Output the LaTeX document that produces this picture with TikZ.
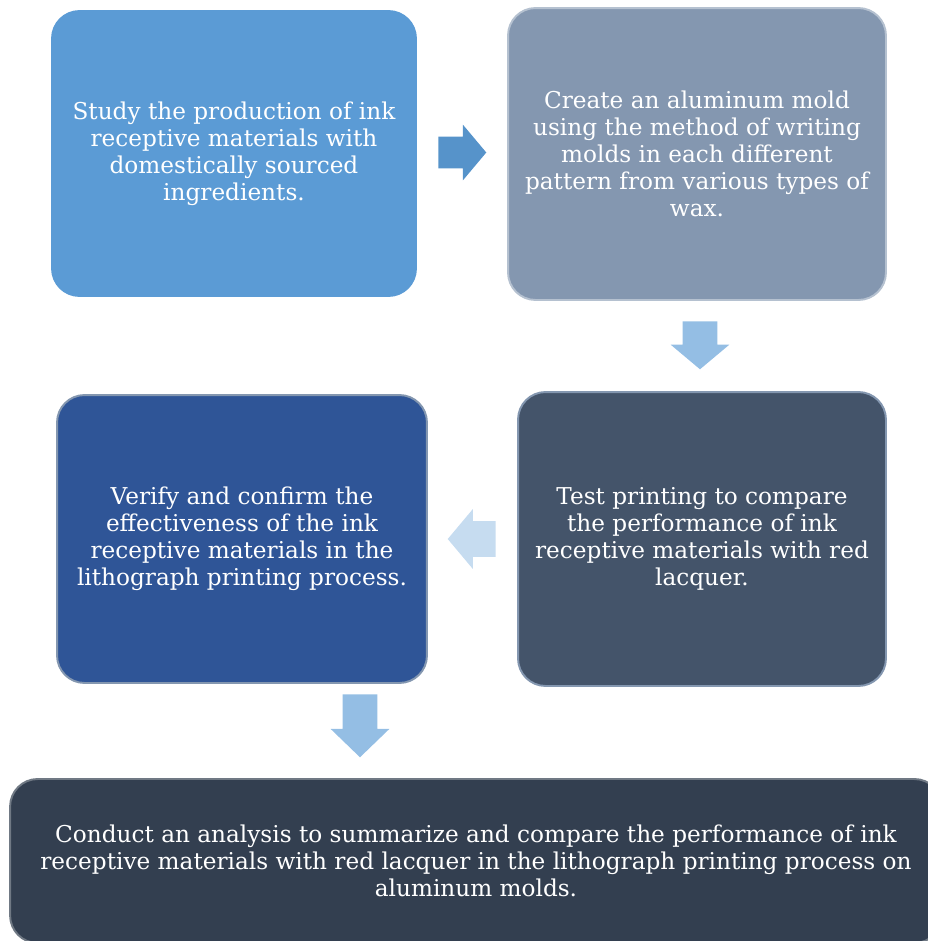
\documentclass[tikz,border=0pt]{standalone}
\usepackage{fontspec}
\setmainfont{DejaVu Serif}
\usetikzlibrary{shapes.arrows,calc}
\definecolor{bA}{HTML}{5B9BD5}
\definecolor{bB}{HTML}{8497B0}
\definecolor{bC}{HTML}{44546A}
\definecolor{bD}{HTML}{2F5597}
\definecolor{bE}{HTML}{333F50}
\tikzset{
    box/.style =    {rectangle,
                    rounded corners=0.55cm,
                    text=white,
                    line width=1.1pt,
                    align=center,
                    inner sep=6pt,
                    font=\fontsize{13.2}{15.4}\selectfont},
    flow/.style =   {single arrow,
                    draw=none,
                    anchor=tail,
                    inner sep=0pt,
                    single arrow tip angle=100,
                    single arrow head extend=0.24cm,
                    minimum height=0.96cm},
    -}

\begin{document}
\begin{tikzpicture}[x=0.02cm,y=-0.02cm]
            \useasboundingbox (0,0) rectangle (928,941);
            \clip (0,0) rectangle (928,941);
            \node[box,fill=bA,draw=bA,minimum width=7.28cm,minimum height=5.70cm]
                (S1) at (234,153.5) {Study the production of ink\\receptive materials with\\domestically sourced\\ingredients.};
            \node[box,fill=bB,draw=bB!60!white,minimum width=7.56cm,minimum height=5.84cm]
                (S2) at (697,154) {Create an aluminum mold\\using the method of writing\\molds in each different\\pattern from various types of\\wax.};
            \node[box,fill=bC,draw=bB,minimum width=7.36cm,minimum height=5.88cm]
                (S3) at (702,539) {Test printing to compare\\the performance of ink\\receptive materials with red\\lacquer.};
            \node[box,fill=bD,draw=bB,minimum width=7.40cm,minimum height=5.76cm]
                (S4) at (242,539) {Verify and confirm the\\effectiveness of the ink\\receptive materials in the\\lithograph printing process.};
            \node[box,fill=bE,draw=bE!70!white,minimum width=18.64cm,minimum height=3.28cm]
                (S5) at (476,861) {Conduct an analysis to summarize and compare the performance of ink\\receptive materials with red lacquer in the lithograph printing process on\\aluminum molds.};
            % block arrows between the steps
            \node[flow,fill=bA!95!black,inner ysep=0.31cm]           (A1) at ($(S1.east)+(21,-1)$) {};
            \node[flow,fill=bA!65,inner ysep=0.34cm,rotate=-90]      (A2) at ($(S2.south)+(3,20)$) {};
            \node[flow,fill=bA!35,inner ysep=0.35cm,rotate=180]      (A3) at ($(S3.west)+(-21,0)$) {};
            \node[flow,fill=bA!65,inner ysep=0.34cm,rotate=-90,
                  minimum height=1.26cm,single arrow tip angle=92]   (A4) at ($(S4.south)+(118,10)$) {};
        \end{tikzpicture}
\end{document}
